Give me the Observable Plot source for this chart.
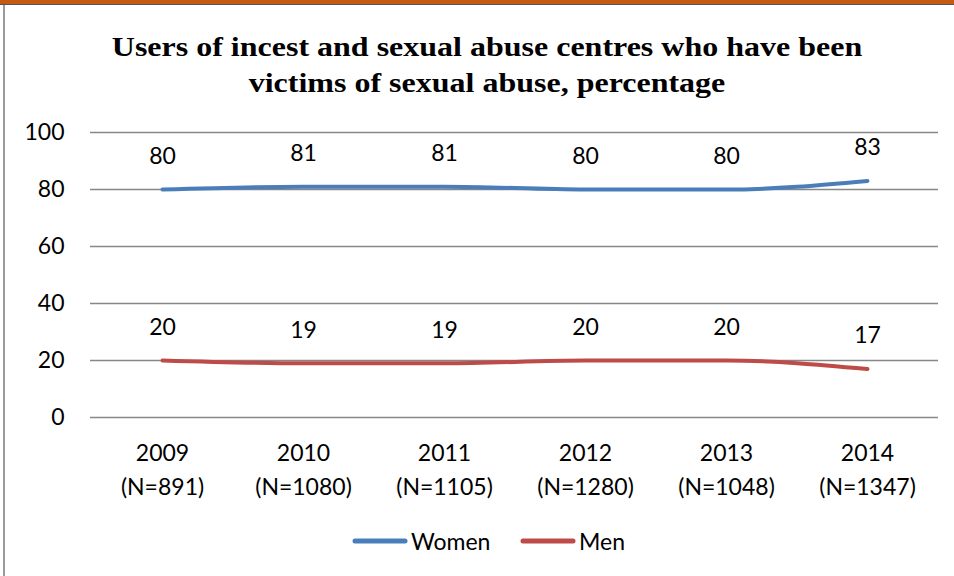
<!DOCTYPE html>
<html>
<head>
<meta charset="utf-8">
<script src="https://cdn.jsdelivr.net/npm/d3@7"></script>
<script src="https://cdn.jsdelivr.net/npm/@observablehq/plot@0.6"></script>
<style>
  html, body { margin: 0; padding: 0; background: #fff; }
  body { width: 954px; height: 576px; overflow: hidden; position: relative; }
  #topband { position: absolute; left: 0; top: 0; width: 954px; height: 4px; background: #C55A11; }
  #topline { position: absolute; left: 0; top: 4px; width: 954px; height: 1px; background: #555; }
  #leftline { position: absolute; left: 3px; top: 5px; width: 2px; height: 571px; background: #9a9a9a; }
  #title { position: absolute; left: 0; top: 29px; width: 974px; text-align: center;
           font-family: "Liberation Serif", "Times New Roman", serif; font-weight: bold;
           font-size: 27px; line-height: 36px; color: #000;
           transform: scaleX(1.185); transform-origin: 487px 50%; }
  #chart { position: absolute; left: 0; top: 105px; }
  #legend { position: absolute; left: 0; top: 527px; width: 954px; height: 28px;
            font-family: Lato, "Open Sans", sans-serif; font-size: 23px; color: #000; }
  .item { position: absolute; top: 0; display: flex; align-items: center; height: 28px; }
  .item svg { display: block; margin-right: 3px; }
</style>
</head>
<body>
<div id="topband"></div>
<div id="topline"></div>
<div id="leftline"></div>
<div id="title">Users of incest and sexual abuse centres who have been<br>victims of sexual abuse, percentage</div>
<div id="chart"></div>
<div id="legend"></div>
<script>
const years = ["2009", "2010", "2011", "2012", "2013", "2014"];
const nLabels = ["(N=891)", "(N=1080)", "(N=1105)", "(N=1280)", "(N=1048)", "(N=1347)"];
const women = [80, 81, 81, 80, 80, 83];
const men = [20, 19, 19, 20, 20, 17];
const yTicks = [0, 20, 40, 60, 80, 100];
const seriesNames = ["Women", "Men"];
const seriesColors = ["#4A7EBB", "#BE4B48"];

const rows = [];
years.forEach((y, i) => {
  rows.push({year: y, series: "Women", value: women[i]});
  rows.push({year: y, series: "Men", value: men[i]});
});
const labelOf = new Map(years.map((y, i) => [y, y + "\n" + nLabels[i]]));

const chart = Plot.plot({
  width: 954,
  height: 415,
  marginLeft: 90,
  marginRight: 16,
  marginTop: 27,
  marginBottom: 103,
  style: {fontFamily: "Lato, 'Open Sans', sans-serif", fontSize: "23px", color: "#000", background: "transparent"},
  x: {type: "point", domain: years, padding: 0.5},
  y: {domain: [0, 100]},
  color: {domain: seriesNames, range: seriesColors},
  marks: [
    Plot.gridY(yTicks, {stroke: "#878787", strokeOpacity: 1, strokeWidth: 1.5}),
    Plot.axisY(yTicks, {tickSize: 0, tickPadding: 26, label: null, fontSize: 23}),
    Plot.axisX({tickSize: 0, tickPadding: 20, label: null, fontSize: 23, lineHeight: 1.45,
                tickFormat: d => labelOf.get(d)}),
    Plot.line(rows, {x: "year", y: "value", z: "series", stroke: "series",
                     strokeWidth: 4, curve: "monotone-x", strokeLinecap: "round"}),
    Plot.text(rows, {x: "year", y: "value", text: d => String(d.value), dy: -33,
                     fontSize: 23, fill: "#000"})
  ]
});
document.getElementById("chart").appendChild(chart);

const legend = document.getElementById("legend");
const lefts = [352, 520];
seriesNames.forEach((name, i) => {
  const item = document.createElement("div");
  item.className = "item";
  item.style.left = lefts[i] + "px";
  item.innerHTML = `<svg width="56" height="8"><line x1="3" y1="4" x2="53" y2="4" stroke="${seriesColors[i]}" stroke-width="5" stroke-linecap="round"/></svg><span>${name}</span>`;
  legend.appendChild(item);
});
</script>
</body>
</html>
